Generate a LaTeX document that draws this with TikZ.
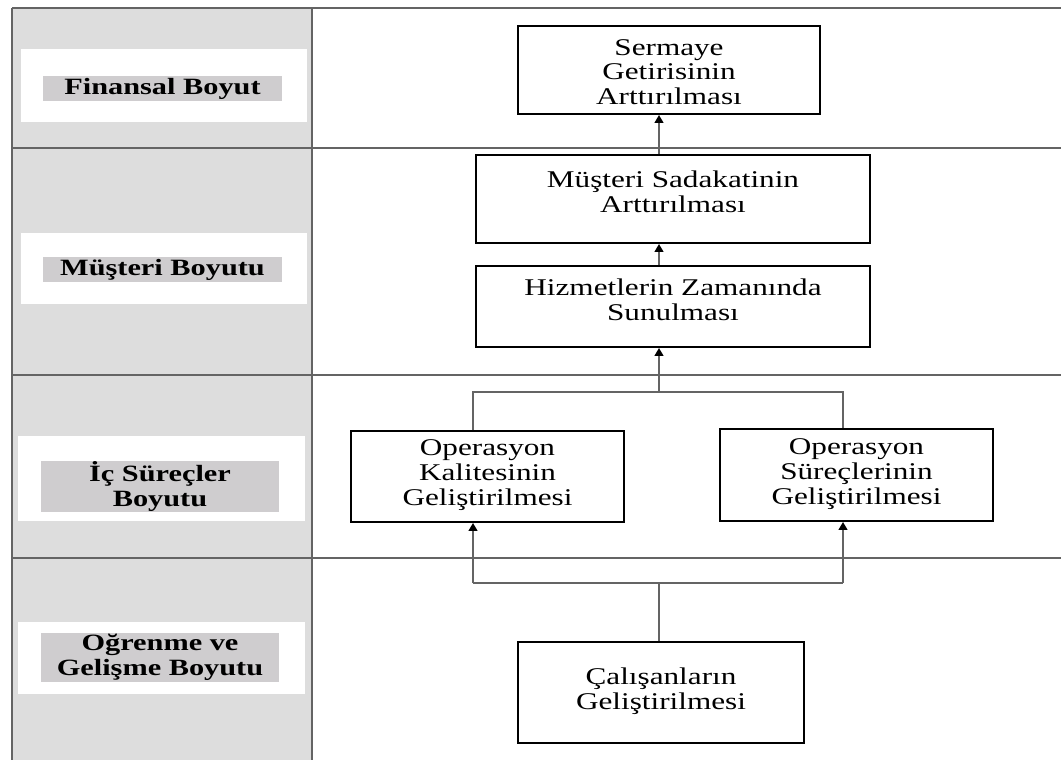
\documentclass[tikz,border=0pt]{standalone}
\usepackage{fontspec}
\setmainfont{Liberation Serif}[FakeStretch=1.3]
\usetikzlibrary{arrows.meta}
\definecolor{colgray}{RGB}{221,221,221}
\definecolor{labgray}{RGB}{207,205,207}
\definecolor{rulegray}{RGB}{100,100,100}
\begin{document}
\begin{tikzpicture}[x=0.75pt,y=-0.75pt,
  rulel/.style={draw=rulegray,line width=1.9pt},
  conn/.style={draw=rulegray,line width=1.9pt},
  arr/.style={conn,-{Triangle[length=6pt,width=6.5pt,color=black]}},
  box/.style={draw=black,line width=1.4pt,fill=white,inner sep=0pt},
  txt/.style={align=center,inner sep=0pt,font=\fontsize{18}{18.5}\selectfont},
  whitepanel/.style={fill=white,inner sep=0pt},
  labelbox/.style={fill=labgray,inner sep=0pt,align=center,
    font=\fontsize{17.5}{18.75}\selectfont\bfseries},
]
\useasboundingbox (0,0) rectangle (1061,760);
\fill[white] (0,0) rectangle (1061,760);

% left column with the perspective names
\fill[colgray] (12,8) rectangle (312,760);
\foreach \y in {8,148,375,558} \draw[rulel] (12,\y) -- (1061,\y);
\draw[rulel] (12,8) -- (12,760);
\draw[rulel] (312,8) -- (312,760);

\node[whitepanel,minimum width=286*0.75pt,minimum height=73*0.75pt] (p1) at (164,85.5) {};
\node[labelbox,minimum width=239*0.75pt,minimum height=25*0.75pt] (l1) at (162.5,88.5) {Finansal Boyut};
\node[whitepanel,minimum width=286*0.75pt,minimum height=71*0.75pt] (p2) at (164,268.5) {};
\node[labelbox,minimum width=239*0.75pt,minimum height=25*0.75pt] (l2) at (162.5,269.5) {Müşteri Boyutu};
\node[whitepanel,minimum width=287*0.75pt,minimum height=85*0.75pt] (p3) at (161.5,478.5) {};
\node[labelbox,minimum width=238*0.75pt,minimum height=47*0.75pt] (l3) at (160,486.5) {İç Süreçler\\Boyutu};
\node[whitepanel,minimum width=287*0.75pt,minimum height=72*0.75pt] (p4) at (161.5,658) {};
\node[labelbox,minimum width=238*0.75pt,minimum height=49*0.75pt] (l4) at (160,657.5) {Oğrenme ve\\Gelişme Boyutu};

% objective boxes
\node[box,minimum width=302*0.75pt,minimum height=88*0.75pt] (sermaye) at (669,70) {};
\node[box,minimum width=394*0.75pt,minimum height=88*0.75pt] (sadakat) at (673,199) {};
\node[box,minimum width=394*0.75pt,minimum height=81*0.75pt] (hizmet) at (673,306.5) {};
\node[box,minimum width=273*0.75pt,minimum height=91*0.75pt] (opk) at (487.5,476.5) {};
\node[box,minimum width=273*0.75pt,minimum height=92*0.75pt] (ops) at (856.5,475) {};
\node[box,minimum width=286*0.75pt,minimum height=101*0.75pt] (calis) at (661,692.5) {};

\node[txt] (sermaye-t) at (669,72) {Sermaye\\Getirisinin\\Arttırılması};
\node[txt] (sadakat-t) at (673,192) {Müşteri Sadakatinin\\Arttırılması};
\node[txt] (hizmet-t) at (673,300) {Hizmetlerin Zamanında\\Sunulması};
\node[txt] (opk-t) at (487.5,475) {Operasyon\\Kalitesinin\\Geliştirilmesi};
\node[txt] (ops-t) at (856.5,474) {Operasyon\\Süreçlerinin\\Geliştirilmesi};
\node[txt] (calis-t) at (661,691) {Çalışanların\\Geliştirilmesi};

% connectors
\coordinate (sp) at (659,0);
\coordinate (bl) at (473,392);
\coordinate (bm) at (659,392);
\coordinate (br) at (843,392);
\coordinate (cl) at (473,583);
\coordinate (cm) at (659,583);
\coordinate (cr) at (843,583);

\draw[arr] (sadakat.north -| sp) -- (sermaye.south -| sp);
\draw[arr] (hizmet.north -| sp) -- (sadakat.south -| sp);
\draw[arr] (bm) -- (hizmet.south -| sp);
\draw[conn] (opk.north -| bl) -- (bl) -- (br) -- (ops.north -| br);
\draw[conn] (cl) -- (cr);
\draw[arr] (cl) -- (opk.south -| cl);
\draw[arr] (cr) -- (ops.south -| cr);
\draw[conn] (calis.north -| sp) -- (cm);
\end{tikzpicture}
\end{document}
